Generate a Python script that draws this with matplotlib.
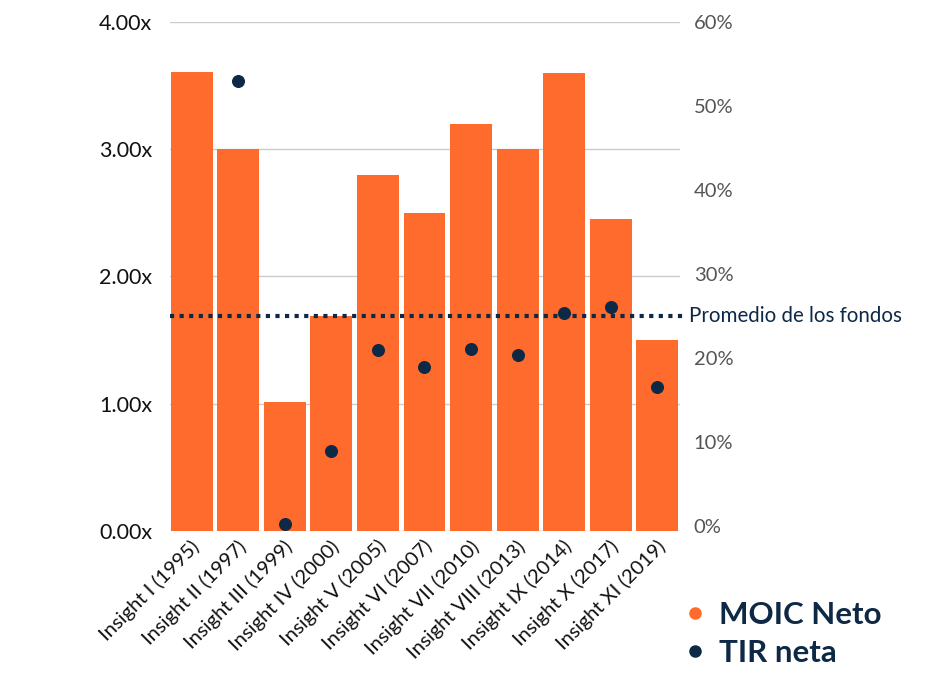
import numpy as np
import matplotlib.pyplot as plt
import matplotlib.transforms as mtransforms
from matplotlib.lines import Line2D

plt.rcParams['font.family'] = ['Lato', 'DejaVu Sans']

fondos = ['Insight I (1995)', 'Insight II (1997)', 'Insight III (1999)',
          'Insight IV (2000)', 'Insight V (2005)', 'Insight VI (2007)',
          'Insight VII (2010)', 'Insight VIII (2013)', 'Insight IX (2014)',
          'Insight X (2017)', 'Insight XI (2019)']
moic = [3.61, 3.00, 1.01, 1.69, 2.80, 2.50, 3.20, 3.00, 3.60, 2.45, 1.50]
# TIR neta en %, el primer fondo no tiene punto
tir = [np.nan, 53.0, 0.2, 8.9, 20.9, 18.9, 21.1, 20.4, 25.4, 26.1, 16.6]
promedio = 1.69

naranja = '#FF6B2C'
azul = '#0D2945'

fig = plt.figure(figsize=(9.35, 6.84), dpi=100)
ax = fig.add_axes([0.182, 0.2237, 0.545, 0.7442])
ax2 = ax.twinx()

x = np.arange(len(fondos))
ax.bar(x, moic, width=0.9, color=naranja, zorder=2)
ax.set_xlim(-0.46, 10.48)
ax.set_ylim(0, 4)
ax.set_yticks([0, 1, 2, 3, 4])
ax.set_yticklabels(['0.00x', '1.00x', '2.00x', '3.00x', '4.00x'])
ax.grid(axis='y', color='#cccccc', linewidth=1, zorder=0)
ax.set_axisbelow(True)

ax.axhline(promedio, xmin=0, xmax=1.006, color=azul, linestyle=(0, (1, 1.3)),
           linewidth=3, zorder=3, clip_on=False)
ax.text(1.018, promedio, 'Promedio de los fondos', transform=ax.get_yaxis_transform(),
        va='center', ha='left', fontsize=14.8, color=azul)

ax2.scatter(x, tir, s=70, color=azul, zorder=4)
ax2.set_ylim(-0.6, 59.8)
ax2.set_yticks(np.arange(0, 61, 10))
ax2.set_yticklabels([f'{v}%' for v in range(0, 61, 10)])

for a in (ax, ax2):
    for s in a.spines.values():
        s.set_visible(False)

ax.tick_params(axis='y', length=0, pad=13, labelsize=15.5, labelcolor='#111111')
ax2.tick_params(axis='y', length=0, pad=10, labelsize=14.5, labelcolor='#555555')
ax.tick_params(axis='x', length=0, pad=9)
ax.set_xticks(x)
ax.set_xticklabels(fondos, rotation=45, ha='right', va='center', rotation_mode='anchor',
                   fontsize=14.5, color='#111111')
# correr las etiquetas un poco a la derecha
desplaza = mtransforms.ScaledTranslation(5 / 100, 0, fig.dpi_scale_trans)
for lbl in ax.get_xticklabels():
    lbl.set_transform(lbl.get_transform() + desplaza)

handles = [Line2D([], [], marker='o', linestyle='none', color=naranja, markersize=8),
           Line2D([], [], marker='o', linestyle='none', color=azul, markersize=8)]
leg = fig.legend(handles, ['MOIC Neto', 'TIR neta'], loc='upper left',
                 bbox_to_anchor=(0.697, 0.162), frameon=False, handletextpad=0.25,
                 handlelength=1.0, labelspacing=0.32,
                 prop={'size': 22.5, 'weight': 'bold'})
for t in leg.get_texts():
    t.set_color(azul)

fig.savefig('out.png', dpi=100)
